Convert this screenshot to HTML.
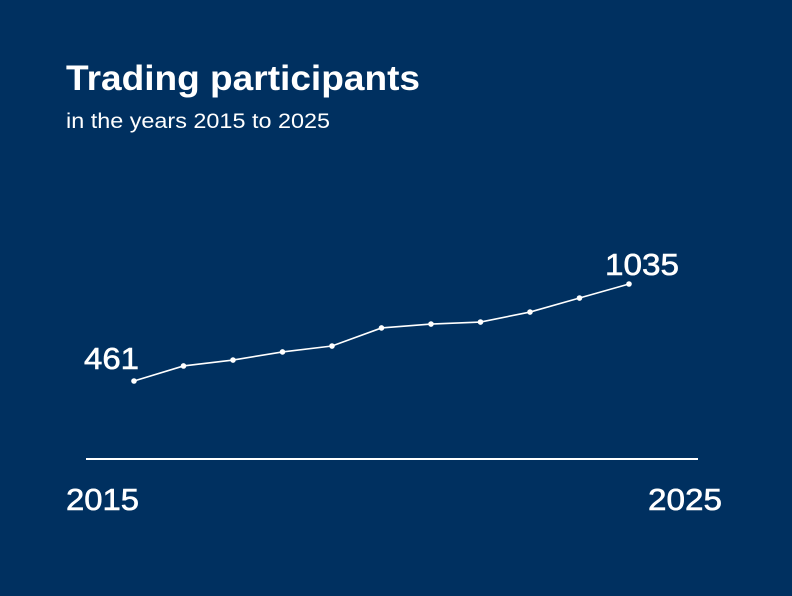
<!DOCTYPE html>
<html><head><meta charset="utf-8"><style>
html,body{margin:0;padding:0;background:#003060;}
svg{display:block;font-family:"Liberation Sans",sans-serif;}
</style></head><body>
<svg id="chart" width="792" height="596" viewBox="0 0 792 596">
<rect width="792" height="596" fill="#003060"/>
<text x="66" y="90" fill="#fff" font-size="35" font-weight="bold" textLength="354" lengthAdjust="spacingAndGlyphs">Trading participants</text>
<text x="66" y="128" fill="#fff" font-size="21" textLength="264" lengthAdjust="spacingAndGlyphs">in the years 2015 to 2025</text>
<line x1="86" y1="459" x2="698" y2="459" stroke="#fff" stroke-width="2"/>
<text x="66" y="510" fill="#fff" font-size="31" textLength="73" lengthAdjust="spacingAndGlyphs" stroke="#fff" stroke-width="0.6">2015</text>
<text x="648" y="510" fill="#fff" font-size="31" textLength="74" lengthAdjust="spacingAndGlyphs" stroke="#fff" stroke-width="0.6">2025</text>
<g id="marks"></g>
</svg>
<script>
const years = [2015,2016,2017,2018,2019,2020,2021,2022,2023,2024,2025];
const participants = [461,550,585,633,668,775,798,810,869,952,1035];
const firstLabel = "461";
const lastLabel = "1035";
function xs(i){ return 134 + (629-134)*i/(years.length-1); }
function ys(v){ return 381 - (v-461)*(97/574); }
const ns="http://www.w3.org/2000/svg";
const g=document.getElementById('marks');
const line=document.createElementNS(ns,'polyline');
line.setAttribute('points',participants.map((v,i)=>xs(i)+','+ys(v)).join(' '));
line.setAttribute('fill','none');line.setAttribute('stroke','#fff');line.setAttribute('stroke-width','1.6');


g.appendChild(line);
participants.forEach((v,i)=>{
  const c=document.createElementNS(ns,'circle');
  c.setAttribute('cx',xs(i));c.setAttribute('cy',ys(v));c.setAttribute('r','2.8');c.setAttribute('fill','#fff');
  
  
  g.appendChild(c);
});
const t1=document.createElementNS(ns,'text');
t1.setAttribute('x',xs(0)-50);t1.setAttribute('y',ys(participants[0])-12);
t1.setAttribute('fill','#fff');t1.setAttribute('font-size','31');t1.textContent=firstLabel;
t1.setAttribute('textLength','55');t1.setAttribute('lengthAdjust','spacingAndGlyphs');
t1.setAttribute('stroke','#fff');t1.setAttribute('stroke-width','0.6');


g.appendChild(t1);
const n=participants.length-1;
const t2=document.createElementNS(ns,'text');
t2.setAttribute('x',xs(n)-24);t2.setAttribute('y',ys(participants[n])-9);
t2.setAttribute('fill','#fff');t2.setAttribute('font-size','31');t2.textContent=lastLabel;
t2.setAttribute('textLength','74');t2.setAttribute('lengthAdjust','spacingAndGlyphs');
t2.setAttribute('stroke','#fff');t2.setAttribute('stroke-width','0.6');


g.appendChild(t2);
</script>
</body></html>
